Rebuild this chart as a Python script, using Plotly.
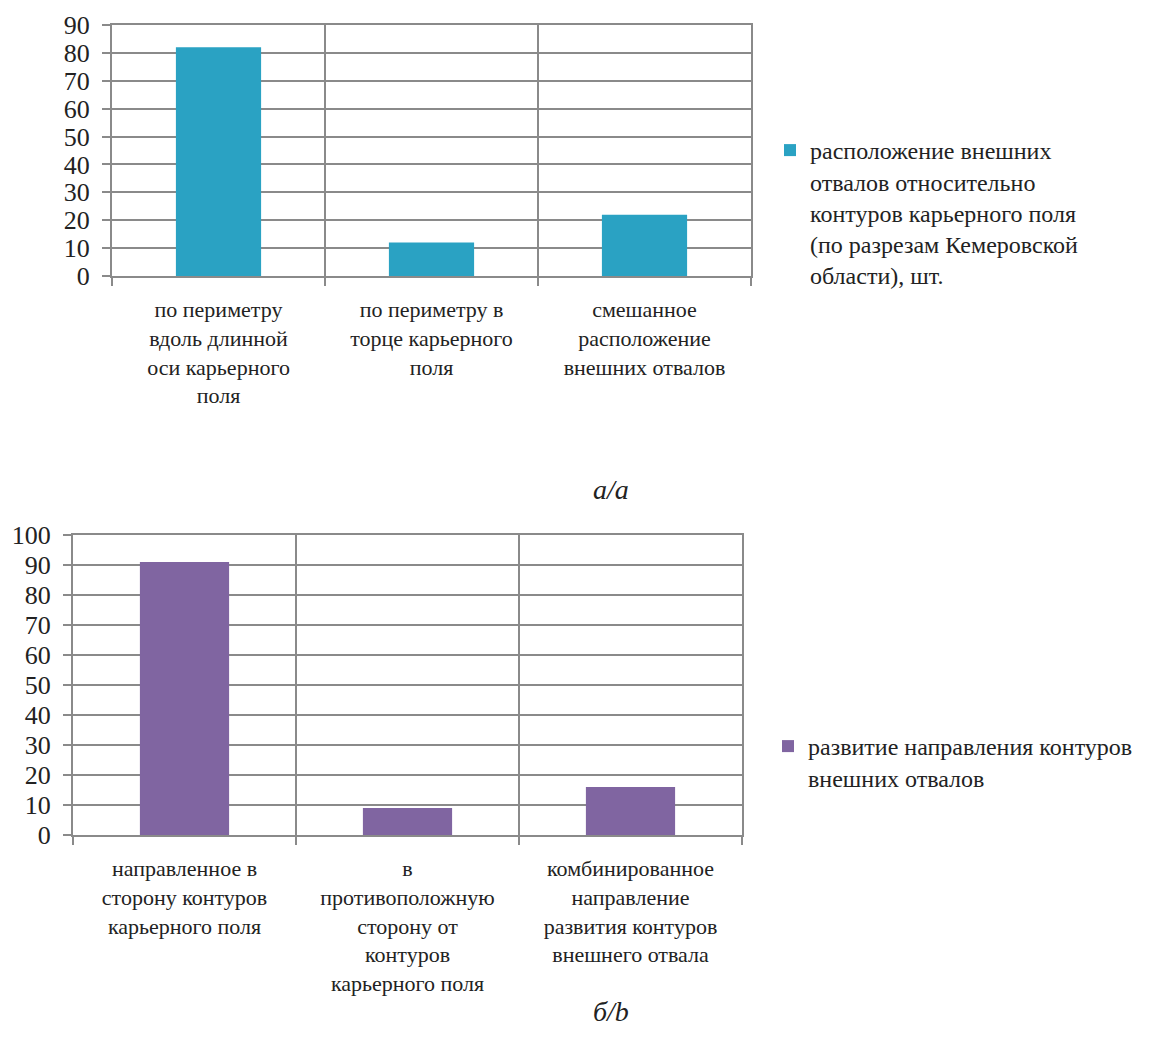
import plotly.graph_objects as go

# ---- data ----
cats_a = ["по периметру<br>вдоль длинной<br>оси карьерного<br>поля",
          "по периметру в<br>торце карьерного<br>поля",
          "смешанное<br>расположение<br>внешних отвалов"]
vals_a = [82, 12, 22]
name_a = ("расположение внешних<br>отвалов относительно<br>контуров карьерного поля"
          "<br>(по разрезам Кемеровской<br>области), шт.")

cats_b = ["направленное в<br>сторону контуров<br>карьерного поля",
          "в<br>противоположную<br>сторону от<br>контуров<br>карьерного поля",
          "комбинированное<br>направление<br>развития контуров<br>внешнего отвала"]
vals_b = [91, 9, 16]
name_b = "развитие направления контуров<br>внешних отвалов"

caption_a = "а/а"
caption_b = "б/b"

W, H = 1168, 1052
FONT = "Liberation Serif, Times New Roman, serif"
GRID = "#8a8a8a"
TXT = "#222222"

fig = go.Figure()
fig.add_trace(go.Bar(x=cats_a, y=vals_a, name=name_a, width=0.4,
                     marker=dict(color="#2AA2C3", line=dict(width=0)),
                     xaxis="x", yaxis="y", legend="legend", showlegend=True))
fig.add_trace(go.Bar(x=cats_b, y=vals_b, name=name_b, width=0.4,
                     marker=dict(color="#8065A1", line=dict(width=0)),
                     xaxis="x2", yaxis="y2", legend="legend2", showlegend=True))

def xax(domain, anchor):
    return dict(domain=domain, anchor=anchor, type="category", tickson="boundaries",
                showgrid=True, gridcolor=GRID, gridwidth=2,
                showline=True, linecolor=GRID, linewidth=2, mirror=True,
                ticks="outside", ticklen=8, tickwidth=2, tickcolor=GRID,
                tickfont=dict(family=FONT, size=22, color=TXT),
                ticklabelstandoff=13, fixedrange=True, automargin=False)

def yax(domain, anchor, rng, dtick):
    return dict(domain=domain, anchor=anchor, range=rng, dtick=dtick,
                showgrid=True, gridcolor=GRID, gridwidth=2, zeroline=False,
                showline=True, linecolor=GRID, linewidth=2, mirror=True,
                ticks="outside", ticklen=8, tickwidth=2, tickcolor=GRID,
                tickfont=dict(family=FONT, size=26, color=TXT),
                ticklabelstandoff=7, fixedrange=True, automargin=False)

def px(x):
    return x / W

def py(y):
    return 1 - y / H

fig.update_layout(
    width=W, height=H,
    margin=dict(l=0, r=0, t=0, b=0, autoexpand=False),
    paper_bgcolor="white", plot_bgcolor="white",
    font=dict(family=FONT, color=TXT),
    xaxis=xax([px(104), px(743)], "y"),
    yaxis=yax([py(268), py(17)], "x", [0, 90], 10),
    xaxis2=xax([px(65), px(734)], "y2"),
    yaxis2=yax([py(827), py(527)], "x2", [0, 100], 10),
    legend=dict(x=px(762), y=py(120), xanchor="left", yanchor="top",
                font=dict(family=FONT, size=24, color=TXT), itemwidth=30,
                valign="top", bgcolor="rgba(0,0,0,0)", tracegroupgap=0),
    legend2=dict(x=px(760), y=py(716), xanchor="left", yanchor="top",
                 font=dict(family=FONT, size=24, color=TXT), itemwidth=30,
                 valign="top", bgcolor="rgba(0,0,0,0)", tracegroupgap=0),
    annotations=[
        dict(text="<i>" + caption_a + "</i>", x=px(603), y=py(481),
             xref="paper", yref="paper", showarrow=False,
             font=dict(family=FONT, size=28, color=TXT),
             xanchor="center", yanchor="middle"),
        dict(text="<i>" + caption_b + "</i>", x=px(603), y=py(1003),
             xref="paper", yref="paper", showarrow=False,
             font=dict(family=FONT, size=28, color=TXT),
             xanchor="center", yanchor="middle"),
    ],
    showlegend=True,
)

fig.write_html("out.html")
